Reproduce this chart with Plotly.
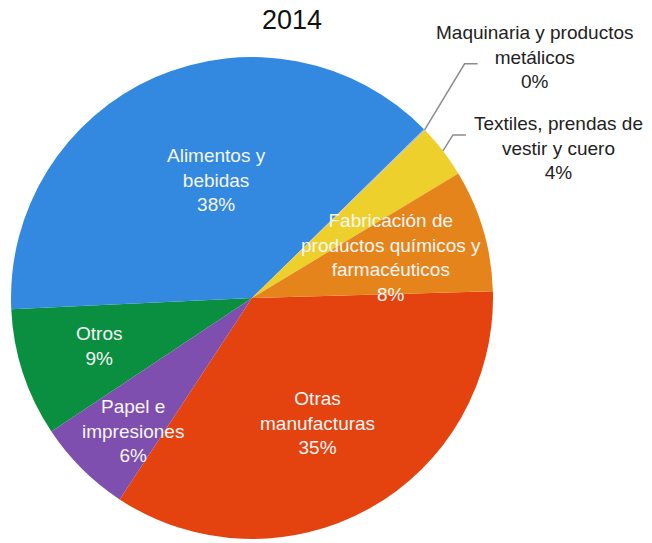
import math
import plotly.graph_objects as go

# Sector shares of manufacturing, 2014 (percent)
sectors = [
    "Otras manufacturas",
    "Papel e impresiones",
    "Otros",
    "Alimentos y bebidas",
    "Maquinaria y productos metálicos",
    "Textiles, prendas de vestir y cuero",
    "Fabricación de productos químicos y farmacéuticos",
]
shares = [34.7, 6.4, 8.6, 38.4, 0.1, 3.6, 8.2]
label_lines = [
    "Otras<br>manufacturas",
    "Papel e<br>impresiones",
    "Otros",
    "Alimentos y<br>bebidas",
    "Maquinaria y productos<br>metálicos",
    "Textiles, prendas de<br>vestir y cuero",
    "Fabricación de<br>productos químicos y<br>farmacéuticos",
]
colors = ["#e4420f", "#7e4fae", "#0a8f40", "#3388e0", "#b9b9b9", "#edd02c", "#e6841c"]
outside = [False, False, False, False, True, True, False]
title_text = "2014"

W, H = 652, 543
CX, CY, R = 252, 298, 241          # pie centre and radius in pixels
START = -1.6                        # first slice edge, degrees clockwise from 3 o'clock

# inside-label placement: fraction of radius and angular nudge (deg)
inside_place = {0: (0.585, 1.5), 1: (0.74, -3), 2: (0.665, 0.7), 3: (0.51, 7), 6: (0.60, 0.2)}
# outside-label text centre and leader elbow (pixel offsets from slice edge)
outside_place = {4: ((535, 57), (40, -66), 13), 5: ((558, 148), (10, -16), 13)}


def px(x, y):
    return x / W, 1 - y / H


fig = go.Figure(go.Pie(
    labels=sectors,
    values=shares,
    sort=False,
    direction="clockwise",
    rotation=90 + START,
    marker=dict(colors=colors, line=dict(width=0)),
    textinfo="none",
    hoverinfo="label+percent",
    domain=dict(x=[(CX - R) / W, (CX + R) / W], y=[1 - (CY + R) / H, 1 - (CY - R) / H]),
    showlegend=False,
))

annotations = []
shapes = []
total = sum(shares)
angle = START
for i, v in enumerate(shares):
    span = 360 * v / total
    mid = angle + span / 2
    angle += span
    text = f"{label_lines[i]}<br>{round(v / total * 100)}%"
    if not outside[i]:
        rf, nudge = inside_place[i]
        a = math.radians(mid + nudge)
        x, y = CX + rf * R * math.cos(a), CY + rf * R * math.sin(a)
        ax, ay = px(x, y)
        annotations.append(dict(x=ax, y=ay, xref="paper", yref="paper", text=text,
                                xanchor="center", yanchor="middle",
                                showarrow=False, font=dict(size=19, color="#f6f6f6")))
    else:
        (tx, ty), (ex, ey), hl = outside_place[i]
        a = math.radians(mid)
        x0, y0 = CX + R * math.cos(a), CY + R * math.sin(a)
        x1, y1 = x0 + ex, y0 + ey
        x2, y2 = x1 + hl, y1
        p0, p1, p2 = px(x0, y0), px(x1, y1), px(x2, y2)
        shapes.append(dict(type="path", xref="paper", yref="paper",
                           path=f"M {p0[0]},{p0[1]} L {p1[0]},{p1[1]} L {p2[0]},{p2[1]}",
                           line=dict(color="#8c8c8c", width=1.5)))
        ax, ay = px(tx, ty)
        annotations.append(dict(x=ax, y=ay, xref="paper", yref="paper", text=text,
                                xanchor="center", yanchor="middle",
                                showarrow=False, font=dict(size=19, color="#222222")))

tx, ty = px(292, 20)
annotations.append(dict(x=tx, y=ty, xref="paper", yref="paper", text=title_text,
                        xanchor="center", yanchor="middle",
                        showarrow=False, font=dict(size=27, color="#111111")))

fig.update_layout(
    width=W, height=H,
    margin=dict(l=0, r=0, t=0, b=0),
    paper_bgcolor="white",
    font=dict(family="Liberation Sans, Arial, sans-serif"),
    annotations=annotations,
    shapes=shapes,
)

fig.write_html("out.html")
